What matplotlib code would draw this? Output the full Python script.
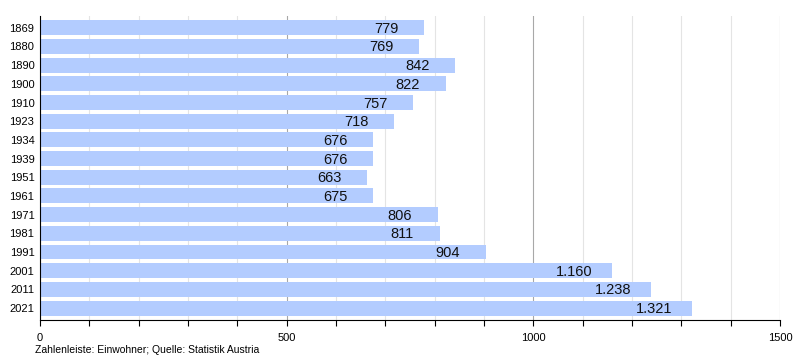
import matplotlib.pyplot as plt
from matplotlib.ticker import MultipleLocator

years = ["1869", "1880", "1890", "1900", "1910", "1923", "1934", "1939",
         "1951", "1961", "1971", "1981", "1991", "2001", "2011", "2021"]
population = [779, 769, 842, 822, 757, 718, 676, 676,
              663, 675, 806, 811, 904, 1160, 1238, 1321]

plt.rcParams["font.family"] = ["Liberation Sans", "DejaVu Sans"]

fig = plt.figure(figsize=(8, 3.6), dpi=100)
ax = fig.add_axes([0.05, 0.111, 0.925, 0.845])

pos = list(range(len(years)))
ax.barh(pos, population, height=0.8, color="#b3ccff", zorder=2)

for p, v in zip(pos, population):
    label = f"{v:,}".replace(",", ".")
    ax.annotate(label, (v, p), xytext=(-38, -1), textcoords="offset pixels",
                ha="center", va="center", fontsize=10.5, color="#111111", zorder=3)

ax.set_xlim(0, 1500)
ax.set_ylim(len(years) - 0.36, -0.64)
ax.set_yticks(pos)
ax.set_yticklabels(years, fontsize=8)
ax.tick_params(axis="y", length=0, pad=4)

ax.xaxis.set_major_locator(MultipleLocator(500))
ax.xaxis.set_minor_locator(MultipleLocator(100))
ax.tick_params(axis="x", which="both", direction="out", length=4, width=0.8,
               labelsize=8, pad=5)
ax.grid(axis="x", which="minor", color="#e4e4e4", lw=0.8, zorder=0)
ax.grid(axis="x", which="major", color="#a8a8a8", lw=0.8, zorder=0)
ax.grid(axis="y", visible=False)

for side in ("top", "right"):
    ax.spines[side].set_visible(False)
ax.spines["left"].set_color("black")
ax.spines["bottom"].set_color("black")

fig.text(35 / 800, 1 - 350 / 360, "Zahlenleiste: Einwohner; Quelle: Statistik Austria",
         fontsize=7.5, va="center", ha="left")

fig.savefig("out.png", dpi=100)
